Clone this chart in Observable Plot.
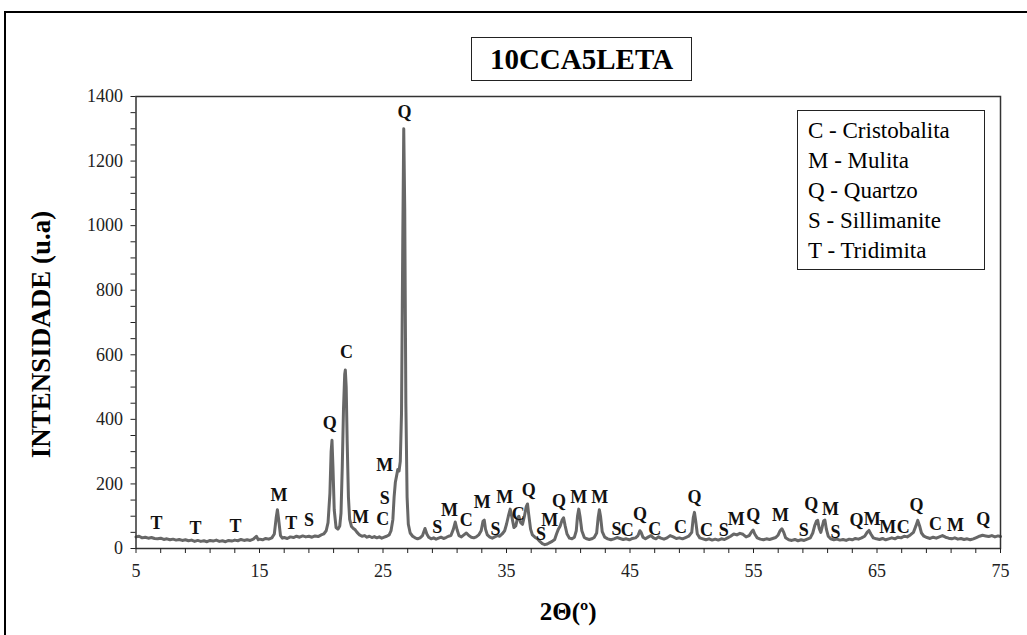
<!DOCTYPE html>
<html>
<head>
<meta charset="utf-8">
<script src="https://cdn.jsdelivr.net/npm/d3@7"></script>
<script src="https://cdn.jsdelivr.net/npm/@observablehq/plot@0.6"></script>
<style>
  html, body { margin: 0; padding: 0; background: #fff; }
  #wrap { position: relative; width: 1027px; height: 635px; overflow: hidden; font-family: "Liberation Serif", "Times New Roman", serif; }
  #outer { position: absolute; left: 4px; top: 11px; width: 1100px; height: 700px; border-left: 2px solid #000; border-top: 2px solid #000; }
  #title { position: absolute; left: 471px; top: 37px; width: 219px; height: 42px; border: 1.5px solid #222; font-weight: bold; font-size: 29px; text-align: center; line-height: 42px; color: #000; }
  #legend { position: absolute; left: 797px; top: 110px; width: 188px; height: 160px; border: 1.5px solid #222; font-size: 23px; color: #000; box-sizing: border-box; padding: 5px 0 0 10px; line-height: 30px; }
  svg { position: absolute; left: 0; top: 0; }
</style>
</head>
<body>
<div id="wrap">
  <div id="outer"></div>
  <div id="chart"></div>
  <div id="title"></div>
  <div id="legend"></div>
</div>
<script>
// ---- data ----
const chartTitle = "10CCA5LETA";
const xLabel = "2Θ(º)";
const yLabel = "INTENSIDADE (u.a)";
const legendEntries = ["C - Cristobalita", "M - Mulita", "Q - Quartzo", "S - Sillimanite", "T - Tridimita"];
const xTickLabels = [5, 15, 25, 35, 45, 55, 65, 75];
const yTickLabels = [0, 200, 400, 600, 800, 1000, 1200, 1400];

const twoTheta = [
  5.00,5.25,5.5,5.75,6.0,6.25,6.5,6.75,7.0,7.25,7.5,7.75,8.0,8.25,8.5,8.75,9.0,9.25,9.5,9.75,
  10.0,10.25,10.5,10.75,11.0,11.25,11.5,11.75,12.0,12.25,12.5,12.75,13.0,13.25,13.5,13.75,14.0,14.25,14.5,14.75,14.9,
  15.0,15.25,15.5,15.75,16.0,16.2,16.35,16.45,16.55,16.7,16.85,17.0,17.25,17.5,17.75,18.0,18.25,18.5,18.75,
  19.0,19.25,19.5,19.75,20.0,20.2,20.4,20.55,20.7,20.8,20.87,20.95,21.05,21.2,21.35,21.5,21.6,21.7,21.8,21.9,21.95,
  22.02,22.1,22.2,22.3,22.45,22.6,22.75,22.9,23.1,23.3,23.5,23.7,23.9,24.1,24.3,24.5,24.7,24.9,
  25.1,25.3,25.5,25.65,25.8,25.9,26.0,26.1,26.2,26.3,26.4,26.5,26.6,26.68,26.76,26.85,26.95,
  27.05,27.2,27.4,27.6,27.8,28.0,28.2,28.4,28.55,28.7,28.9,29.1,29.3,29.5,29.7,29.9,
  30.1,30.3,30.5,30.7,30.85,31.0,31.15,31.35,31.55,31.75,31.95,32.15,32.35,32.55,32.75,32.95,
  33.1,33.2,33.3,33.45,33.65,33.85,34.05,34.25,34.45,34.65,34.85,35.0,35.15,35.3,35.45,35.6,35.75,35.9,
  36.0,36.15,36.3,36.45,36.6,36.7,36.8,36.95,37.1,37.3,37.5,37.7,37.9,38.1,38.3,38.5,38.7,38.9,
  39.05,39.2,39.35,39.5,39.62,39.75,39.9,40.1,40.3,40.5,40.65,40.75,40.85,40.95,41.1,41.3,41.5,41.7,41.9,
  42.1,42.3,42.42,42.52,42.62,42.75,42.95,43.2,43.45,43.7,43.95,44.2,44.45,44.7,44.95,
  45.2,45.45,45.65,45.8,45.9,46.05,46.25,46.5,46.7,46.9,47.1,47.3,47.5,47.75,48.0,48.25,48.5,48.75,
  49.0,49.25,49.5,49.75,50.0,50.12,50.22,50.32,50.45,50.65,50.9,51.15,51.4,51.65,51.9,
  52.15,52.4,52.65,52.9,53.15,53.4,53.65,53.9,54.15,54.4,54.65,54.85,54.97,55.1,55.3,55.55,55.8,
  56.05,56.3,56.55,56.8,57.0,57.15,57.3,57.45,57.6,57.85,58.1,58.35,58.6,58.85,
  59.1,59.35,59.6,59.8,59.95,60.1,60.2,60.32,60.45,60.55,60.68,60.78,60.9,61.05,61.25,61.5,61.75,
  62.0,62.25,62.5,62.75,63.0,63.25,63.5,63.75,64.0,64.2,64.35,64.5,64.7,64.95,
  65.2,65.45,65.7,65.95,66.2,66.45,66.7,66.95,67.2,67.45,67.7,67.95,68.15,68.3,68.45,68.6,68.8,
  69.05,69.3,69.55,69.8,70.05,70.3,70.55,70.8,71.05,71.3,71.55,71.8,
  72.05,72.3,72.55,72.8,73.05,73.3,73.55,73.8,74.05,74.3,74.55,74.8,75.0
];
const intensity = [
  36,38,33,35,32,34,31,30,32,28,30,27,29,26,28,25,27,24,26,22,
  25,22,24,21,25,23,26,22,24,21,25,23,26,24,28,25,27,25,29,38,27,
  29,27,31,29,33,45,95,120,90,40,32,34,31,36,34,38,35,39,36,
  38,35,39,37,42,45,55,80,170,300,335,250,120,65,60,70,110,250,430,540,553,
  500,330,160,90,68,62,58,50,42,38,40,35,38,34,37,33,36,32,
  35,38,42,55,90,160,205,225,245,240,270,420,950,1300,1050,450,160,
  75,48,38,33,30,33,40,62,45,35,30,33,29,32,35,31,
  34,38,40,60,82,58,40,36,42,48,40,35,33,36,42,55,
  85,88,60,42,35,32,36,40,38,45,55,75,100,122,95,65,70,95,
  100,80,75,100,130,138,105,60,42,35,30,22,15,12,14,18,22,28,
  45,60,70,88,95,70,45,32,30,35,55,100,122,100,55,34,30,28,30,
  34,48,95,120,98,52,35,30,27,30,34,31,28,30,27,
  31,33,40,55,50,35,30,36,40,33,30,36,32,29,33,40,36,31,
  33,30,34,38,50,95,112,85,45,33,30,27,30,26,29,
  26,30,28,33,38,45,42,47,44,36,40,52,57,45,33,29,27,
  30,28,31,34,42,55,61,50,33,27,25,28,24,27,
  25,29,33,48,70,85,87,62,50,65,86,88,60,38,30,27,29,
  26,28,25,29,27,31,29,33,38,50,56,45,33,30,
  28,31,27,30,33,30,35,33,38,36,42,50,70,87,70,48,38,
  34,31,35,32,36,40,35,32,30,33,29,31,
  28,30,27,30,34,38,41,39,37,40,36,39,37
];

// phase labels above the peaks
const peakLetter = ["T","T","T","M","T","S","Q","C","M","C","S","M","Q",
  "S","M","C","M","S","M","C","Q","S","M","Q","M","M","S","C","Q","C","C","Q","C","S","M","Q","M",
  "S","Q","M","S","Q","M","M","C","Q","C","M","Q"];
const peakTheta = [6.66,9.82,13.06,16.57,17.57,19.0,20.69,22.04,23.18,24.98,25.15,25.15,26.74,
  29.39,30.38,31.74,33.03,34.11,34.86,35.95,36.81,37.8,38.5,39.25,40.85,42.56,43.91,44.77,45.8,47.0,49.09,50.22,51.2,52.6,53.6,54.98,57.19,
  59.07,59.67,61.24,61.64,63.34,64.61,65.87,67.12,68.2,69.74,71.36,73.6];
const peakLabelY = [78,64,68,164,78,87,388,608,97,92,156,259,1350,
  66,120,87,143,61,159,105,182,44,88,145,159,159,61,58,107,61,66,159,58,58,92,102,102,
  58,138,123,50,87,92,66,66,133,74,71,92];

// ---- build ----
const pattern = twoTheta.map((t, i) => ({t, v: intensity[i]}));
const labels = peakLetter.map((s, i) => ({s, t: peakTheta[i], v: peakLabelY[i]}));
const xTicks = d3.range(5, 75.01, 2);
const yTicks = d3.range(0, 1400.01, 50);

const chart = Plot.plot({
  width: 1027,
  height: 635,
  marginLeft: 135.5,
  marginRight: 27,
  marginTop: 96,
  marginBottom: 87,
  style: {fontFamily: "Liberation Serif, Times New Roman, serif", background: "transparent", color: "#222"},
  x: {domain: [5, 75]},
  y: {domain: [0, 1400]},
  marks: [
    Plot.line(pattern, {x: "t", y: "v", stroke: "#676767", strokeWidth: 3, strokeLinejoin: "round"}),
    Plot.frame({stroke: "#333", strokeWidth: 1.5}),
    Plot.axisY({ticks: yTicks, tickSize: 5, tickPadding: 8, fontSize: 18, label: null,
      tickFormat: d => yTickLabels.includes(d) ? String(d) : ""}),
    Plot.axisX({ticks: xTicks, tickSize: 5, tickPadding: 11, fontSize: 18, label: null,
      tickFormat: d => xTickLabels.includes(d) ? String(d) : ""}),
    Plot.text(labels, {x: "t", y: "v", text: "s", fontSize: 18, fontWeight: "bold", fill: "#111"}),
    Plot.text([yLabel], {frameAnchor: "left", dx: -95, dy: 12, rotate: -90, textAnchor: "middle", lineAnchor: "middle", fontSize: 27, fontWeight: "bold", fill: "#000"}),
    Plot.text([xLabel], {frameAnchor: "bottom", dy: 63, textAnchor: "middle", lineAnchor: "middle", fontSize: 25, fontWeight: "bold", fill: "#000"})
  ]
});
document.getElementById("chart").appendChild(chart);
document.getElementById("title").textContent = chartTitle;
document.getElementById("legend").innerHTML = legendEntries.map(e => `<div>${e}</div>`).join("");
</script>
</body>
</html>
